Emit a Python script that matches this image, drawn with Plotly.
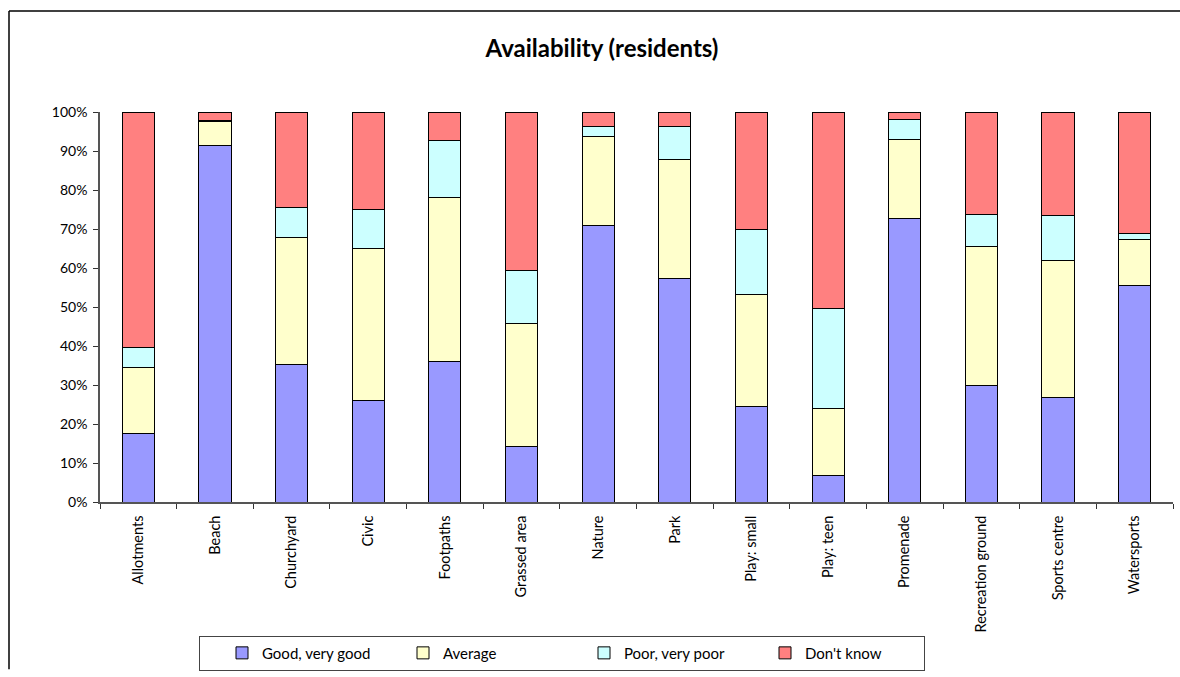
import plotly.graph_objects as go

# Survey categories (x axis)
categories = [
    "Allotments", "Beach", "Churchyard", "Civic", "Footpaths", "Grassed area",
    "Nature", "Park", "Play: small", "Play: teen", "Promenade",
    "Recreation ground", "Sports centre", "Watersports",
]

# Share of residents' responses per category (percent)
good = [17.5, 91.3, 35.2, 26.1, 35.9, 14.2, 70.8, 57.2, 24.5, 6.9, 72.7, 29.9, 26.9, 55.5]
average = [16.9, 6.2, 32.6, 38.9, 42.2, 31.6, 22.8, 30.6, 28.6, 17.1, 20.2, 35.7, 35.1, 11.9]
poor = [5.1, 0.3, 7.8, 10.1, 14.5, 13.6, 2.7, 8.5, 16.7, 25.5, 5.3, 8.2, 11.5, 1.5]
dont_know = [60.5, 2.2, 24.4, 24.9, 7.4, 40.6, 3.7, 3.7, 30.2, 50.5, 1.8, 26.2, 26.5, 31.1]

series = [
    ("Good, very good", good, "#9999FF"),
    ("Average", average, "#FFFFCC"),
    ("Poor, very poor", poor, "#CCFFFF"),
    ("Don't know", dont_know, "#FF8080"),
]

y_ticks = [0, 10, 20, 30, 40, 50, 60, 70, 80, 90, 100]
y_tick_labels = [f"{v}%" for v in y_ticks]

FONT = "Lato, 'DejaVu Sans', sans-serif"

fig = go.Figure()
for name, values, color in series:
    fig.add_trace(go.Bar(
        name=name,
        x=categories,
        y=values,
        marker=dict(color=color, line=dict(color="#000000", width=1)),
    ))

W, H = 1180, 677
L, R, T, B = 100, 7, 112, 169.5
pw = W - L - R
ph = H - T - B


def px_x(x):
    return (x - L) / pw


def px_y(y):
    return (H - B - y) / ph


fig.update_layout(
    width=W,
    height=H,
    margin=dict(l=L, r=R, t=T, b=B, pad=0),
    barmode="stack",
    bargap=0.58,
    plot_bgcolor="white",
    paper_bgcolor="white",
    font=dict(family=FONT, size=14, color="#000000"),
    title=dict(
        text="<b>Availability (residents)</b>",
        x=602 / W,
        xanchor="center",
        y=1 - 49 / H,
        yanchor="middle",
        font=dict(family=FONT, size=24, color="#000000"),
    ),
    xaxis=dict(
        type="category",
        tickangle=-90,
        ticks="outside",
        tickson="boundaries",
        ticklen=5,
        tickcolor="#333333",
        ticklabelstandoff=6,
        showline=True,
        linecolor="#555555",
        linewidth=1.5,
        showgrid=False,
        tickfont=dict(family=FONT, size=14.5, color="#000000"),
    ),
    yaxis=dict(
        range=[0, 100],
        tickvals=y_ticks,
        ticktext=y_tick_labels,
        ticks="outside",
        ticklen=5,
        tickcolor="#333333",
        ticklabelstandoff=3,
        showline=True,
        linecolor="#555555",
        linewidth=1.5,
        showgrid=False,
        zeroline=False,
        tickfont=dict(family=FONT, size=14, color="#000000"),
    ),
    legend=dict(
        orientation="h",
        x=px_x(199),
        xanchor="left",
        y=px_y(643),
        yanchor="top",
        bordercolor="#444444",
        borderwidth=1,
        bgcolor="white",
        indentation=22,
        entrywidth=114,
        itemwidth=30,
        traceorder="normal",
        font=dict(family=FONT, size=15, color="#000000"),
    ),
    shapes=[
        # outer chart frame (top and left edges)
        dict(type="line", xref="paper", yref="paper",
             x0=px_x(9), x1=px_x(1180), y0=px_y(9.5), y1=px_y(9.5),
             line=dict(color="#000000", width=1.5)),
        dict(type="line", xref="paper", yref="paper",
             x0=px_x(9), x1=px_x(9), y0=px_y(9.5), y1=px_y(677),
             line=dict(color="#000000", width=1.5)),
    ],
)

fig.write_html("out.html")
